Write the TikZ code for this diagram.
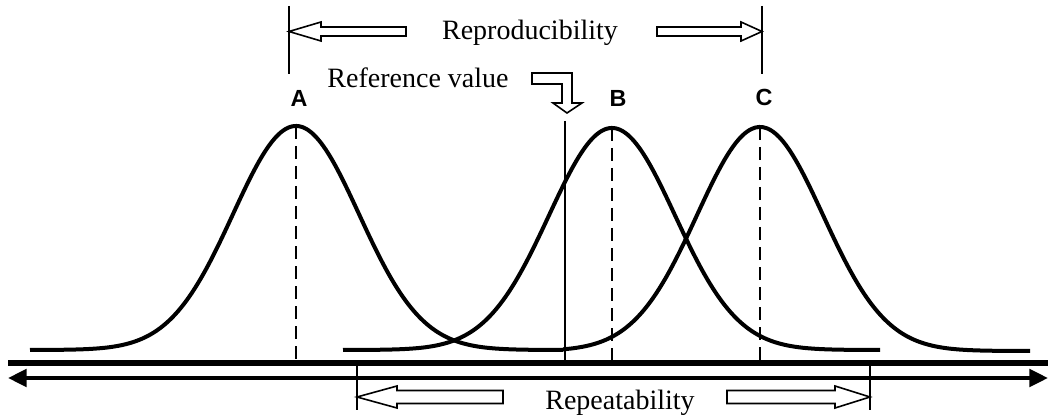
\documentclass[tikz,border=0pt]{standalone}
\usepackage{fontspec}
\setmainfont{Liberation Serif}
\newfontfamily\labfont{Liberation Sans}
\usetikzlibrary{arrows.meta}
\begin{document}
\begin{tikzpicture}[x=0.75pt,y=-0.75pt,
  curve/.style={line width=3pt, line join=round},
  dashln/.style={dash pattern=on 10pt off 5pt},
  hollow/.style={draw, line width=1.2pt, fill=white, line join=miter},
  bar/.style={line width=1.4pt},
  word/.style={font=\fontsize{21}{24}\selectfont, inner sep=0pt, anchor=base},
  lbl/.style={font=\labfont\bfseries\fontsize{17.5}{20}\selectfont, inner sep=0pt}
]
\useasboundingbox (0,0) rectangle (1048,420);

% axis lines
\coordinate (axL) at (8,363);
\coordinate (axR) at (1048,363);
\coordinate (arL) at (8,378);
\coordinate (arR) at (1048,378);
\draw[line width=4.5pt] (axL) -- (axR);
\draw[line width=3pt, {Triangle[length=14pt,width=13pt]}-{Triangle[length=14pt,width=13pt]}] (arL) -- (arR);

% curves
\draw[curve] plot[domain=30:563, samples=120, smooth] (\x,{350-224*exp(-0.5*((\x-296)/63)^2)});
\draw[curve] plot[domain=343:880, samples=120, smooth] (\x,{350-222*exp(-0.5*((\x-612)/63)^2)});
\draw[curve] plot[domain=563:1030, samples=120, smooth] (\x,{351-224*exp(-0.5*((\x-760)/63)^2)});

% peaks and dashed lines
\coordinate (pA) at (296,126);
\coordinate (pB) at (612,128);
\coordinate (pC) at (760,127);
\coordinate (bA) at (296,361);
\coordinate (bB) at (612,361);
\coordinate (bC) at (760,361);
\draw[dashln, line width=2.2pt] (pA) -- (bA);
\draw[dashln, line width=1.3pt] (pB) -- (bB);
\draw[dashln, line width=2pt] (pC) -- (bC);

% reference value line
\coordinate (rTop) at (565,121);
\coordinate (rBot) at (565,361);
\draw[line width=1.6pt] (rTop) -- (rBot);

% labels
\node[lbl] (A) at (299,98) {A};
\node[lbl] (B) at (618,98) {B};
\node[lbl] (C) at (764,97) {C};

% reproducibility
\coordinate (rpL1) at (289,6);
\coordinate (rpL2) at (289,74);
\coordinate (rpR1) at (762,6);
\coordinate (rpR2) at (762,74);
\draw[bar] (rpL1) -- (rpL2);
\draw[bar] (rpR1) -- (rpR2);
\draw[hollow] (289,31.5) -- (321,22) -- (321,27) -- (406,27) -- (406,36) -- (321,36) -- (321,41) -- cycle;
\draw[hollow] (762,31.5) -- (741,22) -- (741,27) -- (657,27) -- (657,36) -- (741,36) -- (741,41) -- cycle;
\node[word] (repro) at (530,40) {Reproducibility};

% reference value
\node[word] (refv) at (418,88) {Reference value};
\draw[hollow] (532,73) -- (572,73) -- (572,103) -- (582,103) -- (567,113) -- (553,103) -- (562,103) -- (562,84) -- (532,84) -- cycle;

% repeatability
\coordinate (rtL1) at (357,366);
\coordinate (rtL2) at (357,410);
\coordinate (rtR1) at (870,366);
\coordinate (rtR2) at (870,410);
\draw[bar] (rtL1) -- (rtL2);
\draw[bar] (rtR1) -- (rtR2);
\draw[hollow] (357,397) -- (397,386) -- (397,390.5) -- (503,390.5) -- (503,403.5) -- (397,403.5) -- (397,408) -- cycle;
\draw[hollow] (870,397) -- (835,386) -- (835,390.5) -- (727,390.5) -- (727,403.5) -- (835,403.5) -- (835,408) -- cycle;
\node[word] (repeat) at (620,409) {Repeatability};
\end{tikzpicture}
\end{document}
